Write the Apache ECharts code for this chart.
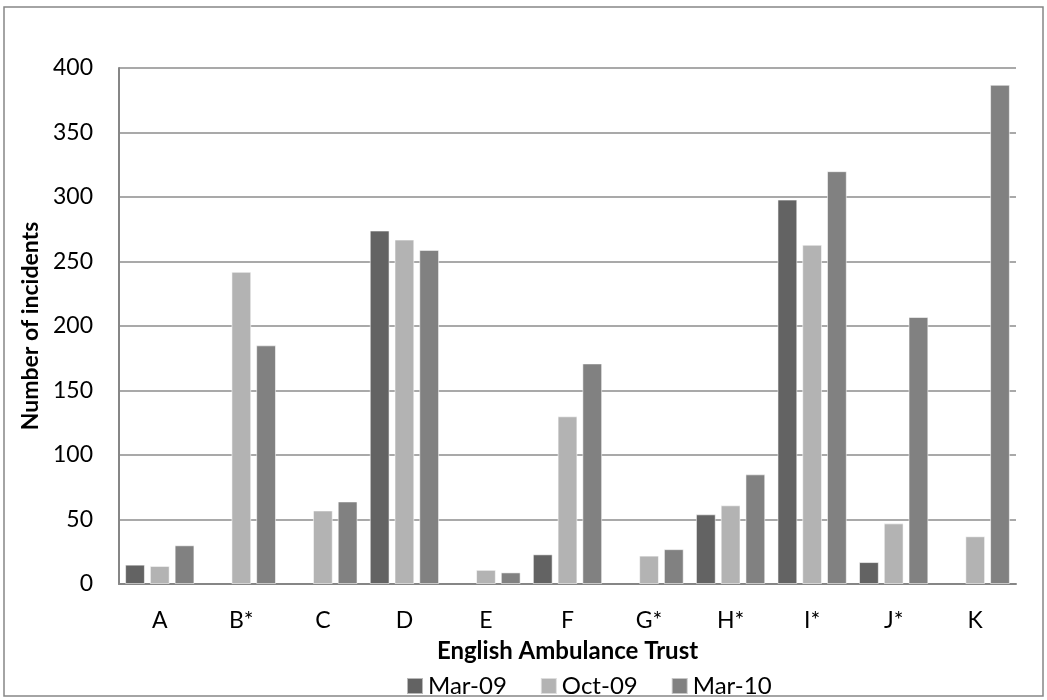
<!DOCTYPE html>
<html>
<head>
<meta charset="utf-8">
<script src="https://cdn.jsdelivr.net/npm/echarts@6/dist/echarts.min.js"></script>
<style>
  html, body { margin: 0; padding: 0; background: #fff; }
  #chart { width: 1047px; height: 700px; }
</style>
</head>
<body>
<div id="chart"></div>
<script>
// trusts along the x axis
const trusts = ['A', 'B*', 'C', 'D', 'E', 'F', 'G*', 'H*', 'I*', 'J*', 'K']
// incidents per survey, null where no bar is drawn
const mar09 = [15, null, null, 274, null, 23, null, 54, 298, 17, null]
const oct09 = [14, 242, 57, 267, 11, 130, 22, 61, 263, 47, 37]
const mar10 = [30, 185, 64, 259, 9, 171, 27, 85, 320, 207, 387]
const seriesNames = ['Mar-09', 'Oct-09', 'Mar-10']
const seriesColors = ['#636363', '#b3b3b3', '#818181']

const font = 'Lato, "Open Sans", sans-serif'
const chart = echarts.init(document.getElementById('chart'))

const makeBar = (name, data, color) => ({
  name: name,
  type: 'bar',
  data: data,
  barGap: '25%',
  barCategoryGap: '15%',
  itemStyle: {
    color: color,
    borderColor: 'rgba(255,255,255,0.55)',
    borderWidth: 1
  }
})

chart.setOption({
  backgroundColor: '#fff',
  animation: false,
  textStyle: { fontFamily: font },
  graphic: [
    {
      type: 'rect',
      z: 100,
      shape: { x: 4, y: 7, width: 1039, height: 689 },
      style: { fill: 'none', stroke: '#868686', lineWidth: 1.5 }
    }
  ],
  grid: {
    left: 119,
    right: 31,
    top: 68,
    bottom: 116
  },
  legend: {
    data: seriesNames,
    top: 669,
    left: 401,
    icon: 'rect',
    itemWidth: 16,
    itemHeight: 16,
    itemGap: 33,
    textStyle: { fontSize: 24, color: '#000', fontFamily: font }
  },
  xAxis: {
    type: 'category',
    data: trusts,
    name: 'English Ambulance Trust',
    nameLocation: 'middle',
    nameGap: 55,
    nameTextStyle: { fontSize: 24, fontWeight: 'bold', color: '#000' },
    axisLine: { lineStyle: { color: '#868686', width: 2 } },
    axisTick: { show: false },
    axisLabel: { fontSize: 23, color: '#000', margin: 25 }
  },
  yAxis: {
    type: 'value',
    min: 0,
    max: 400,
    interval: 50,
    name: 'Number of incidents',
    nameLocation: 'middle',
    nameGap: 76,
    nameTextStyle: { fontSize: 23, fontWeight: 'bold', color: '#000' },
    axisLine: { show: true, lineStyle: { color: '#868686', width: 2 } },
    axisTick: { show: false },
    axisLabel: { fontSize: 23, color: '#000', margin: 26 },
    splitLine: { lineStyle: { color: '#8c8c8c', width: 1.5 } }
  },
  series: [
    makeBar(seriesNames[0], mar09, seriesColors[0]),
    makeBar(seriesNames[1], oct09, seriesColors[1]),
    makeBar(seriesNames[2], mar10, seriesColors[2])
  ]
})
</script>
</body>
</html>
